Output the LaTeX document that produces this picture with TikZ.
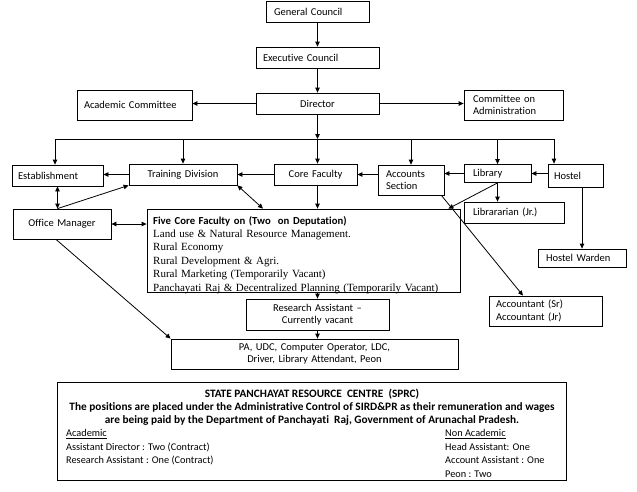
\documentclass[tikz,border=0pt]{standalone}
\usepackage{fontspec}
\setmainfont[Ligatures=NoCommon]{Carlito}
\newfontfamily\seriffac{Liberation Serif}
\usetikzlibrary{arrows.meta}

\tikzset{
  boite/.style={draw, line width=0.8pt, inner ysep=0pt, inner xsep=7pt,
    font=\fontsize{10.5}{12.5}\selectfont},
  fleche/.style={-{Triangle[length=5pt,width=4.5pt]}, line width=0.8pt},
  fleches/.style={{Triangle[length=5pt,width=4.5pt]}-{Triangle[length=5pt,width=4.5pt]}, line width=0.8pt},
  texte/.style={inner sep=0pt, font=\fontsize{10.5}{12.5}\selectfont}
}

\begin{document}
\begin{tikzpicture}[x=1pt, y=-1pt]
    \useasboundingbox (0,0) rectangle (637,491);

    % Conseils et direction
    \node[boite, text width=87pt, inner xsep=8pt, minimum height=21pt, align=left] (gc) at (317.5,11.5) {General Council};
    \node[boite, text width=109pt, minimum height=21pt, align=left] (ec) at (317.5,57.5) {Executive Council};
    \node[boite, text width=109pt, minimum height=21pt, align=center] (dir) at (317.5,103.5) {Director};
    \node[boite, text width=101pt, minimum height=30pt, align=left] (acad) at (134.5,105) {Academic Committee};
    \node[boite, text width=81pt, inner xsep=9pt, minimum height=30pt, align=left] (coa) at (513.5,105) {Committee on\\Administration};

    % Services sous le directeur
    \node[boite, text width=79pt, inner xsep=6pt, minimum height=21pt, align=left] (est) at (57.5,175.5) {Establishment};
    \node[boite, text width=94pt, minimum height=21pt, align=center] (trn) at (183,174.5) {Training Division};
    \node[boite, text width=69pt, minimum height=21pt, align=center] (core) at (315.5,174.5) {Core Faculty};
    \node[boite, text width=50pt, inner xsep=8pt, minimum height=30pt, align=left] (acc) at (411,180) {Accounts\\Section};
    \node[boite, text width=49pt, inner xsep=9pt, minimum height=18pt, align=left] (lib) at (497.5,173.5) {Library};
    \node[boite, text width=43pt, inner xsep=6pt, minimum height=23pt, align=left] (hos) at (575.5,175.5) {Hostel};

    % Personnel
    \node[boite, text width=84pt, minimum height=30pt, align=center] (om) at (62,224) {Office Manager};
    \node[boite, minimum width=313pt, minimum height=83pt] (five) at (303.5,250.5) {};
    \node[texte, anchor=north west, text width=302pt, align=left, font=\fontsize{10.7}{13.4}\selectfont] (fivetxt) at (153,216)
      {\textbf{Five Core Faculty on (Two\ \ on Deputation)}\\
       \seriffac\fontsize{11}{13.4}\selectfont Land use \& Natural Resource Management.\\
       Rural Economy\\
       Rural Development \& Agri.\\
       Rural Marketing (Temporarily Vacant)\\
       Panchayati Raj \& Decentralized Planning (Temporarily Vacant)};
    \node[boite, text width=82pt, inner xsep=9pt, minimum height=21pt, align=left] (libjr) at (514,212.5) {Librararian (Jr.)};
    \node[boite, text width=72pt, inner xsep=8pt, minimum height=18pt, align=left] (hw) at (582,258) {Hostel Warden};
    \node[boite, text width=129pt, minimum height=31pt, align=center] (ra) at (317.5,314.5) {Research Assistant --\\Currently vacant};
    \node[boite, text width=99pt, minimum height=30pt, align=left] (acct) at (545.5,311) {Accountant (Sr)\\Accountant (Jr)};
    \node[boite, text width=273pt, minimum height=30pt, align=center] (pa) at (314.5,354) {PA, UDC, Computer Operator, LDC,\\Driver, Library Attendant, Peon};

    % Cadre SPRC
    \node[boite, minimum width=509pt, minimum height=98pt] (sprc) at (311.5,431) {};
    \node[texte, anchor=north, align=center, font=\bfseries\fontsize{11.3}{12.8}\selectfont] (sprctitre) at (312,389)
      {STATE PANCHAYAT RESOURCE\ \ CENTRE\ \ (SPRC)\\
       The positions are placed under the Administrative Control of SIRD\&PR as their remuneration and wages\\
       are being paid by the Department of Panchayati\ \ Raj, Government of Arunachal Pradesh.};
    \node[texte, anchor=north west, align=left, font=\fontsize{10.3}{13.7}\selectfont] (acadlist) at (66,429)
      {\underline{Academic}\\Assistant Director : Two (Contract)\\Research Assistant : One (Contract)};
    \node[texte, anchor=north west, align=left, font=\fontsize{10.3}{13.7}\selectfont] (nonacad) at (445,429)
      {\underline{Non Academic}\\Head Assistant: One\\Account Assistant : One\\Peon : Two};

    % Liaisons du haut
    \draw[fleche] (gc.south) -- (ec.north);
    \draw[fleche] (ec.south) -- (dir.north);
    \draw[fleche] (dir.west) -- (dir.west -| acad.east);
    \draw[fleche] (dir.east) -- (dir.east -| coa.west);

    % Barre de distribution
    \coordinate (bus) at (317.5,139);
    \coordinate (busg) at (55,139);
    \coordinate (busd) at (554,139);
    \draw[fleche] (dir.south) -- (bus);
    \draw[line width=0.8pt] (busg) -- (busd);
    \draw[fleche] (busg) -- (busg |- est.north);
    \draw[fleche] (trn.north |- bus) -- (trn.north);
    \draw[fleche] (bus) -- (bus |- core.north);
    \draw[fleche] (acc.north |- bus) -- (acc.north);
    \draw[fleche] (lib.north |- bus) -- (lib.north);
    \draw[fleche] (busd) -- (busd |- hos.north);

    % Chaine horizontale
    \draw[fleche] (hos.west |- lib.east) -- (lib.east);
    \draw[fleche] (lib.west) -- (lib.west -| acc.east);
    \draw[fleche] (acc.west |- core.east) -- (core.east);
    \draw[fleche] (core.west) -- (trn.east);
    \draw[fleche] (trn.west) -- (trn.west -| est.east);

    % Liaisons du personnel
    \draw[fleches] (est.south) -- (est.south |- om.north);
    \draw[fleche] (est.south |- om.north) -- (trn.south west);
    \draw[fleches] (trn.south east) -- ([xshift=-40.5pt]five.north);
    \draw[fleche] (bus |- core.south) -- (bus |- five.north);
    \draw[fleches] (om.east) -- (om.east -| five.west);
    \draw[fleche] ([xshift=-6pt]om.south) -- (pa.north west);
    \draw[fleche] (lib.south) -- ([xshift=-12pt]five.north east);
    \draw[fleche] (lib.south) -- (lib.south |- libjr.north);
    \draw[fleche] ([xshift=-3pt]acc.south east) -- ([xshift=-22.5pt]acct.north);
    \draw[fleche] (hw.north |- hos.south) -- (hw.north);
    \draw[fleche] (ra.north |- five.south) -- (ra.north);
    \draw[fleche] (ra.south) -- (ra.south |- pa.north);
\end{tikzpicture}
\end{document}
